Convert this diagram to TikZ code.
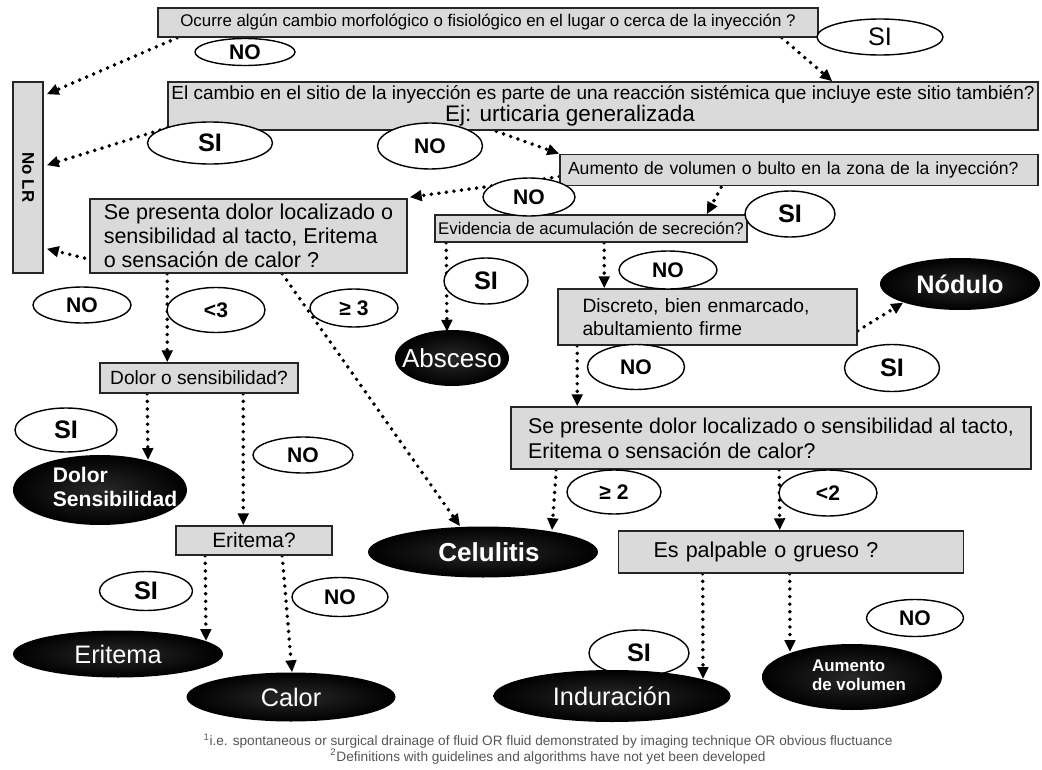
\documentclass[tikz,border=0pt]{standalone}
\usepackage{fontspec}
\usepackage{graphicx}
\setmainfont{Liberation Sans}
\usetikzlibrary{arrows.meta,shapes.geometric,calc}
\pgfdeclarelayer{edgelayer}
\pgfdeclarelayer{nodelayer}
\pgfsetlayers{edgelayer,nodelayer,main}
\definecolor{boxgray}{RGB}{218,218,218}
\definecolor{notegray}{RGB}{85,85,85}
\newlength{\pxu}
\setlength{\pxu}{0.025cm}
\tikzstyle{question}=[rectangle,draw=black!85,fill=boxgray,line width=1.1pt,inner xsep=4pt,inner ysep=1pt]
\tikzstyle{answer}=[ellipse,draw=black,fill=white,line width=1pt,inner sep=0pt,font=\bfseries\fontsize{15}{17}\selectfont]
\tikzstyle{siword}=[font=\bfseries\fontsize{18}{20}\selectfont]
\tikzstyle{result}=[ellipse,inner sep=0pt,shading=radial,inner color=black!84,outer color=black,text=white]
\tikzstyle{inarrow}=[line width=2.8pt,line cap=round,dash pattern=on 0pt off 5.4pt,-{Triangle[length=8.5pt,width=7.5pt]}]
\tikzstyle{none}=[inner sep=0pt]

\begin{document}
\begin{tikzpicture}[x=\pxu,y=-\pxu]
	\useasboundingbox (0,0) rectangle (1042,770);
	\begin{pgfonlayer}{nodelayer}
		% questions
		\node [style=question, minimum width=660\pxu, minimum height=29\pxu, font=\fontsize{12}{14}\selectfont] (q1) at (488,22.5) {Ocurre algún cambio morfológico o fisiológico en el lugar o cerca de la inyección ?};
		\node [style=question, minimum width=870\pxu, minimum height=48\pxu, inner xsep=1pt, align=center, font=\fontsize{13.5}{11}\selectfont] (q2) at (603,106) {El cambio en el sitio de la inyección es parte de una reacción sistémica que incluye este sitio también?\\\hspace*{-66\pxu}{\fontsize{16}{17}\selectfont Ej: urticaria generalizada}};
		\node [style=question, minimum width=478\pxu, minimum height=31\pxu, text width=462\pxu, inner xsep=1pt, align=left, font=\fontsize{12.5}{14}\selectfont] (q3) at (799,170) {Aumento de volumen o bulto en la zona de la inyección?};
		\node [style=question, minimum width=312\pxu, minimum height=27\pxu, inner xsep=1pt, font=\fontsize{12}{13}\selectfont] (q4) at (591,228.5) {Evidencia de acumulación de secreción?};
		\node [style=question, minimum width=317\pxu, minimum height=74\pxu, align=left, font=\fontsize{15.3}{17}\selectfont] (q5) at (248.5,236) {Se presenta dolor localizado o\\ sensibilidad al tacto, Eritema\\o sensación de calor ?};
		\node [style=question, minimum width=299\pxu, minimum height=56\pxu, text width=250\pxu, align=left, font=\fontsize{13.7}{16.3}\selectfont] (q6) at (707.5,317) {Discreto, bien enmarcado,\\abultamiento firme};
		\node [style=question, minimum width=198\pxu, minimum height=30\pxu, font=\fontsize{13.6}{15}\selectfont] (q7) at (199,378) {Dolor o sensibilidad?};
		\node [style=question, minimum width=156\pxu, minimum height=29\pxu, font=\fontsize{14.8}{17}\selectfont] (q8) at (254,540.5) {Eritema?};
		\node [style=question, minimum width=520\pxu, minimum height=62\pxu, align=left, font=\fontsize{15.2}{17.7}\selectfont] (q9) at (771,438) {Se presente dolor localizado o sensibilidad al tacto,\\Eritema o sensación de calor?};
		\node [style=question, minimum width=345\pxu, minimum height=42\pxu, text width=275\pxu, align=left, font=\fontsize{15.3}{17}\selectfont] (q10) at (791,552) {Es palpable o grueso ?};
		\node [style=question, minimum width=30\pxu, minimum height=191\pxu, inner sep=0pt, font=\bfseries\fontsize{12}{14}\selectfont] (nolr) at (28,177.5) {\rotatebox{-90}{No LR}};
		% answers
		\node [style=answer, minimum width=100\pxu, minimum height=27\pxu] (no1) at (245,52) {NO};
		\node [style=answer, minimum width=126\pxu, minimum height=36\pxu, font=\mdseries\fontsize{18}{20}\selectfont] (si1) at (880,37) {SI};
		\node [style=answer, style=siword, minimum width=125\pxu, minimum height=42\pxu] (si2) at (210,143) {SI};
		\node [style=answer, minimum width=105\pxu, minimum height=46\pxu] (no2) at (430,146) {NO};
		\node [style=answer, minimum width=92\pxu, minimum height=38\pxu] (no3) at (529,197) {NO};
		\node [style=answer, style=siword, minimum width=90\pxu, minimum height=46\pxu] (si3) at (790,214) {SI};
		\node [style=answer, style=siword, minimum width=84\pxu, minimum height=46\pxu] (si4) at (486,281) {SI};
		\node [style=answer, minimum width=98\pxu, minimum height=38\pxu] (no4) at (668,270) {NO};
		\node [style=answer, minimum width=97\pxu, minimum height=45\pxu] (no5) at (636,367) {NO};
		\node [style=answer, style=siword, minimum width=95\pxu, minimum height=47\pxu] (si5) at (892,368) {SI};
		\node [style=answer, minimum width=98\pxu, minimum height=36\pxu] (no6) at (82,305) {NO};
		\node [style=answer, minimum width=98\pxu, minimum height=45\pxu] (lt3) at (216,310) {<3};
		\node [style=answer, minimum width=88\pxu, minimum height=38\pxu] (ge3) at (354,308) {≥ 3};
		\node [style=answer, style=siword, minimum width=102\pxu, minimum height=44\pxu] (si6) at (66,430) {SI};
		\node [style=answer, minimum width=100\pxu, minimum height=36\pxu] (no7) at (303,455) {NO};
		\node [style=answer, style=siword, minimum width=93\pxu, minimum height=39\pxu] (si7) at (146,591) {SI};
		\node [style=answer, minimum width=96\pxu, minimum height=39\pxu] (no8) at (340,597) {NO};
		\node [style=answer, minimum width=94\pxu, minimum height=44\pxu] (ge2) at (614,492) {≥ 2};
		\node [style=answer, minimum width=98\pxu, minimum height=46\pxu] (lt2) at (828,493) {<2};
		\node [style=answer, style=siword, minimum width=100\pxu, minimum height=46\pxu] (si8) at (639,653) {SI};
		\node [style=answer, minimum width=97\pxu, minimum height=37\pxu] (no9) at (915,618) {NO};
		% results
		\node [style=result, minimum width=160\pxu, minimum height=52\pxu, font=\bfseries\fontsize{18}{20}\selectfont] (nodulo) at (960,284) {Nódulo};
		\node [style=result, minimum width=114\pxu, minimum height=56\pxu, font=\fontsize{18.5}{20}\selectfont] (absceso) at (452,358) {\makebox[0pt]{Absceso}};
		\node [style=result, minimum width=174\pxu, minimum height=70\pxu, font=\bfseries\fontsize{15}{17}\selectfont] (dolorres) at (100,490) {\makebox[0pt]{\hspace*{30\pxu}\begin{tabular}{@{}l@{}}Dolor\\Sensibilidad\end{tabular}}};
		\node [style=result, minimum width=210\pxu, minimum height=47\pxu, font=\fontsize{18}{20}\selectfont] (eritemares) at (118,654) {Eritema};
		\node [style=result, minimum width=209\pxu, minimum height=49\pxu, font=\fontsize{18}{20}\selectfont] (calor) at (291,697) {Calor};
		\node [style=result, minimum width=230\pxu, minimum height=51\pxu, font=\bfseries\fontsize{18.5}{20}\selectfont] (celulitis) at (483,552) {\makebox[0pt]{\hspace*{12\pxu}Celulitis}};
		\node [style=result, minimum width=237\pxu, minimum height=52\pxu, font=\fontsize{18}{20}\selectfont] (induracion) at (612,696) {Induración};
		\node [style=result, minimum width=180\pxu, minimum height=66\pxu, font=\bfseries\fontsize{12}{14}\selectfont] (aumento) at (852,677) {\makebox[0pt]{\hspace*{14\pxu}\begin{tabular}{@{}l@{}}Aumento\\de volumen\end{tabular}}};
		% notes
		\node [style=none, align=center, text=notegray, font=\fontsize{9.7}{10.8}\selectfont] (notes) at (548,749) {\textsuperscript{1}i.e. spontaneous or surgical drainage of fluid OR fluid demonstrated by imaging technique OR obvious fluctuance\\\textsuperscript{2}Definitions with guidelines and algorithms have not yet been developed};
	\end{pgfonlayer}
	\begin{pgfonlayer}{edgelayer}
		\draw [style=inarrow] ($(q1.south west)+(20,0)$) to ($(nolr.north east)+(3,13)$);
		\draw [style=inarrow] ($(q1.south east)+(-37,0)$) to ($(q2.north west)+(665,0)$);
		\draw [style=inarrow] ($(q2.south west)+(0,-3)$) to ($(nolr.north east)+(3,84)$);
		\draw [style=inarrow] ($(q2.south west)+(322,-2)$) to (q3.north west);
		\draw [style=inarrow] ($(q3.north west)+(0,23)$) to ($(q5.north east)+(2,-1)$);
		\draw [style=inarrow] ($(q3.south west)+(162,1)$) to ($(q4.north east)+(-41,0)$);
		\draw [style=inarrow] ($(q4.south west)+(12,0)$) to ($(absceso.north)+(-5,2)$);
		\draw [style=inarrow] ($(q4.south west)+(170,0)$) to ($(q6.north west)+(47,0)$);
		\draw [style=inarrow] ($(q6.south east)+(0,-15)$) to (nodulo.south west);
		\draw [style=inarrow] ($(q6.south west)+(20,0)$) to ($(q9.north west)+(67,0)$);
		\draw [style=inarrow] ($(q5.south west)+(10,-12)$) to ($(nolr.south east)+(3,-25)$);
		\draw [style=inarrow] ($(q5.south west)+(78,0)$) to ($(q7.north west)+(68,0)$);
		\draw [style=inarrow] ($(q5.south west)+(193,0)$) to ($(celulitis.north)+(-23,0)$);
		\draw [style=inarrow] ($(q7.south west)+(48,0)$) to ($(dolorres.center)+(48,-30)$);
		\draw [style=inarrow] ($(q7.south west)+(144,0)$) to ($(q8.north west)+(68,0)$);
		\draw [style=inarrow] ($(q8.south west)+(30,0)$) to ($(eritemares.center)+(88,-13)$);
		\draw [style=inarrow] ($(q8.south west)+(107,0)$) to ($(calor.north)+(1,0)$);
		\draw [style=inarrow] ($(q9.south west)+(46,0)$) to ($(celulitis.north)+(69,4)$);
		\draw [style=inarrow] ($(q9.south west)+(269,0)$) to ($(q10.north west)+(162,0)$);
		\draw [style=inarrow] ($(q10.south west)+(85,0)$) to ($(induracion.center)+(91,-17)$);
		\draw [style=inarrow] ($(q10.south west)+(172,0)$) to ($(aumento.center)+(-62,-25)$);
	\end{pgfonlayer}
\end{tikzpicture}
\end{document}
